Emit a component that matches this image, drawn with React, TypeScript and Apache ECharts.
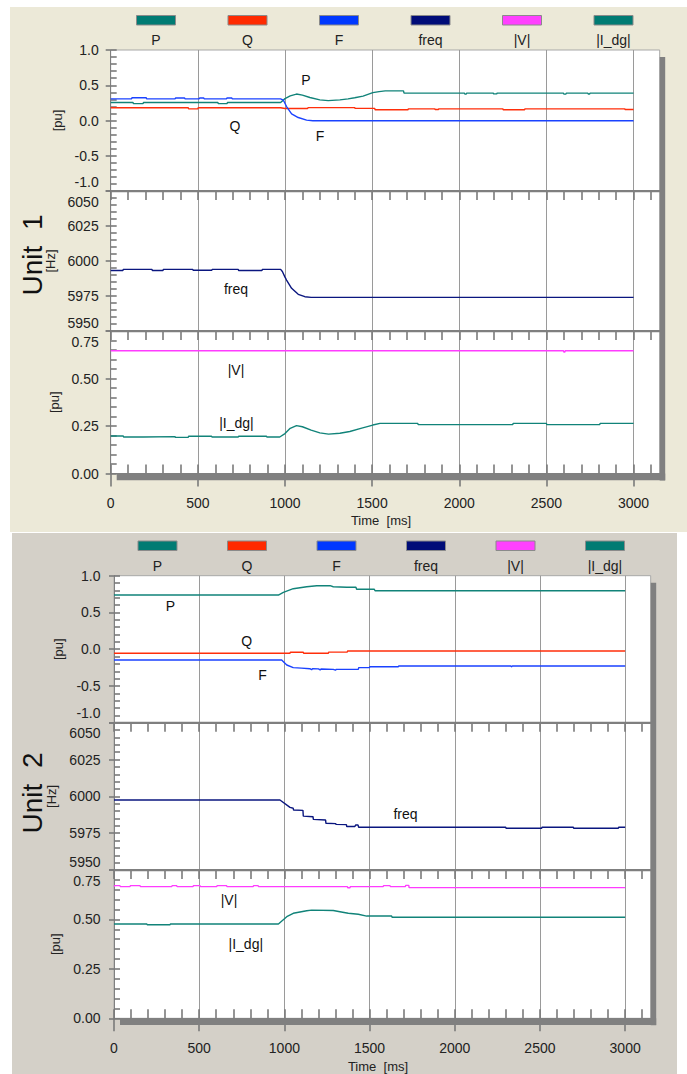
import React, { useEffect, useRef } from "react";
import * as echarts from "echarts";

const FONT = "'Liberation Sans', Arial, sans-serif";

// ---------- tick values ----------
const timeMajorTicks = [0, 500, 1000, 1500, 2000, 2500, 3000];
const timeMinorTicks = [
  0, 100, 200, 300, 400, 500, 600, 700, 800, 900, 1000, 1100, 1200, 1300, 1400, 1500,
  1600, 1700, 1800, 1900, 2000, 2100, 2200, 2300, 2400, 2500, 2600, 2700, 2800, 2900, 3000, 3100,
];
const timeMax = 3150;
const pqRange = [-1, 1, 0.5, 0.1];
const freqRange = [5950, 6050, 25, 5];
const viRange = [0, 0.75, 0.25, 0.05];

// ---------- legend ----------
const legendNames = ["P", "Q", "F", "freq", "|V|", "|I_dg|"];
const legendFills = ["#007b73", "#ff2a00", "#0038ff", "#000c78", "#ff40ff", "#007b73"];
const lineColors = ["#118379", "#ff2e0a", "#1a42ff", "#0a167f", "#ff3cff", "#118379"];

// ---------- Unit 1 data [time ms, value] ----------
const u1P: [number, number][] = [
  [0, 0.255], [128, 0.255], [130, 0.24], [186, 0.24], [188, 0.255],
  [615, 0.255], [617, 0.24], [668, 0.24], [670, 0.255],
  [975, 0.255], [1000, 0.31], [1030, 0.35], [1066, 0.375], [1100, 0.36],
  [1143, 0.326], [1200, 0.293], [1248, 0.282], [1315, 0.293], [1362, 0.307],
  [1400, 0.322], [1448, 0.345], [1504, 0.396], [1540, 0.41], [1575, 0.42],
  [1680, 0.42], [1683, 0.388], [2030, 0.388], [2032, 0.374], [2040, 0.374], [2042, 0.388],
  [2195, 0.388], [2197, 0.378], [2215, 0.378], [2217, 0.388],
  [2598, 0.388], [2600, 0.374], [2612, 0.374], [2614, 0.388],
  [2738, 0.388], [2740, 0.376], [2748, 0.376], [2750, 0.388], [3000, 0.388],
];
const u1Q: [number, number][] = [
  [0, 0.18], [445, 0.18], [447, 0.165], [500, 0.165], [502, 0.18], [975, 0.18],
  [1000, 0.17], [1130, 0.17], [1132, 0.182], [1400, 0.182], [1402, 0.172],
  [1515, 0.172], [1517, 0.152], [1706, 0.152], [1708, 0.165], [1860, 0.165],
  [1862, 0.155], [1880, 0.155], [1882, 0.165], [2250, 0.165], [2252, 0.152],
  [2375, 0.152], [2377, 0.165], [2950, 0.165], [2952, 0.155], [3000, 0.155],
];
const u1F: [number, number][] = [
  [0, 0.307], [120, 0.307], [122, 0.322], [204, 0.322], [206, 0.307],
  [370, 0.307], [372, 0.32], [424, 0.32], [426, 0.307], [508, 0.307], [510, 0.32],
  [534, 0.32], [536, 0.307], [665, 0.307], [667, 0.32], [695, 0.32], [697, 0.307],
  [975, 0.307], [990, 0.29], [1009, 0.198], [1038, 0.095], [1076, 0.042],
  [1124, 0.005], [1160, -0.003], [3000, -0.003],
];
const u1Freq: [number, number][] = [
  [0, 5993.2], [70, 5993.2], [72, 5994], [237, 5994], [239, 5993.2], [300, 5993.2],
  [302, 5994], [471, 5994], [473, 5993.4], [580, 5993.4], [582, 5994], [732, 5994],
  [734, 5993.2], [868, 5993.2], [870, 5994], [975, 5994], [985, 5992.5], [1000, 5988.5],
  [1009, 5986.4], [1038, 5980.5], [1076, 5976.2], [1114, 5974.5], [1150, 5974], [3000, 5974],
];
const u1V: [number, number][] = [
  [0, 0.646], [2598, 0.646], [2600, 0.639], [2606, 0.639], [2608, 0.646], [3000, 0.646],
];
const u1I: [number, number][] = [
  [0, 0.197], [72, 0.197], [74, 0.192], [187, 0.192], [189, 0.194], [369, 0.194],
  [371, 0.19], [445, 0.19], [447, 0.196], [579, 0.196], [581, 0.192], [732, 0.192],
  [734, 0.196], [894, 0.196], [896, 0.192], [970, 0.192], [1000, 0.21], [1030, 0.238],
  [1066, 0.252], [1100, 0.246], [1150, 0.228], [1200, 0.214], [1250, 0.207],
  [1315, 0.212], [1372, 0.221], [1430, 0.236], [1504, 0.255], [1545, 0.264],
  [1762, 0.264], [1764, 0.257], [2307, 0.257], [2309, 0.264], [2500, 0.264],
  [2502, 0.257], [2806, 0.257], [2808, 0.264], [3000, 0.264],
];

// ---------- Unit 2 data [time ms, value] ----------
const u2P: [number, number][] = [
  [0, 0.737], [965, 0.737], [994, 0.774], [1052, 0.823], [1131, 0.85], [1190, 0.864],
  [1268, 0.864], [1287, 0.85], [1366, 0.842], [1420, 0.842], [1424, 0.815],
  [1528, 0.815], [1532, 0.796], [3000, 0.796],
];
const u2Q: [number, number][] = [
  [0, -0.056], [1033, -0.056], [1035, -0.042], [1111, -0.042], [1113, -0.056],
  [1258, -0.056], [1260, -0.04], [1369, -0.04], [1371, -0.024], [3000, -0.024],
];
const u2F: [number, number][] = [
  [0, -0.147], [984, -0.147], [1014, -0.215], [1052, -0.251], [1100, -0.258],
  [1150, -0.265], [1160, -0.28], [1165, -0.265], [1200, -0.268], [1210, -0.282],
  [1215, -0.27], [1287, -0.274], [1300, -0.285], [1305, -0.274], [1434, -0.274],
  [1436, -0.251], [1499, -0.251], [1501, -0.238], [1669, -0.238], [1671, -0.229],
  [2330, -0.229], [2332, -0.24], [2338, -0.229], [3000, -0.229],
];
const u2Freq: [number, number][] = [
  [0, 5997.5], [974, 5997.5], [1033, 5992.5], [1052, 5991.9], [1054, 5990.7],
  [1109, 5990.5], [1111, 5986.6], [1168, 5986.2], [1170, 5984.4], [1242, 5983.9],
  [1244, 5981.7], [1301, 5981.5], [1303, 5981], [1364, 5980.8], [1366, 5979.5],
  [1414, 5979.5], [1418, 5980.6], [1432, 5980.6], [1436, 5979], [2299, 5979],
  [2301, 5978.3], [2510, 5978.3], [2512, 5979], [2696, 5979], [2698, 5978.3],
  [2960, 5978.3], [2962, 5979], [3000, 5979],
];
const u2V: [number, number][] = [
  [0, 0.666], [6, 0.671], [35, 0.671], [37, 0.666], [94, 0.666], [96, 0.671],
  [153, 0.671], [155, 0.666], [339, 0.666], [341, 0.671], [368, 0.671], [370, 0.666],
  [464, 0.666], [466, 0.671], [505, 0.671], [507, 0.666], [603, 0.666], [605, 0.671],
  [661, 0.671], [663, 0.666], [817, 0.666], [819, 0.671], [846, 0.671], [848, 0.666],
  [1370, 0.666], [1372, 0.66], [1385, 0.66], [1387, 0.666], [1580, 0.666],
  [1582, 0.671], [1620, 0.671], [1622, 0.666], [1710, 0.666], [1712, 0.672],
  [1730, 0.672], [1732, 0.661], [3000, 0.661],
];
const u2I: [number, number][] = [
  [0, 0.477], [193, 0.477], [195, 0.473], [329, 0.473], [331, 0.477], [965, 0.477],
  [1014, 0.514], [1052, 0.531], [1131, 0.544], [1160, 0.547], [1287, 0.545],
  [1326, 0.539], [1375, 0.531], [1434, 0.526], [1483, 0.517], [1630, 0.517],
  [1632, 0.511], [3000, 0.511],
];

const unitData = [
  [[u1P, u1Q, u1F], [u1Freq], [u1V, u1I]],
  [[u2P, u2Q, u2F], [u2Freq], [u2V, u2I]],
];
const unitSeriesIdx = [[0, 1, 2], [3], [4, 5]];
const unitTitles = ["Unit  1", "Unit  2"];
const axisNames = ["[pu]", "[Hz]", "[pu]"];

// ---------- layout (pixels) ----------
const layouts = [
  {
    left: 110.7, width: 549, tops: [50, 191, 331], bottom: 473.5,
    labelMargin: 12, nameGap: 47, xLabelMargin: 22,
    legendXs: [156, 247.5, 339, 430.5, 522, 613.5], legendRectY: 15.5, legendTextY: 40,
    unitY: 255, timeX: 381, timeY: 520.7,
    bg: { x: 10, y: 7, w: 677, h: 525, fill: "#ece9d8" },
    annot: [[306, 80], [235, 125.5], [320, 136], [236, 288.5], [236, 369.5], [236.5, 422.5]],
  },
  {
    left: 114, width: 536.7, tops: [575.7, 722.7, 870], bottom: 1018.3,
    labelMargin: 13.5, nameGap: 48, xLabelMargin: 23,
    legendXs: [157.5, 247, 336.5, 426, 515.5, 605], legendRectY: 541, legendTextY: 565.7,
    unitY: 793, timeX: 378, timeY: 1066,
    bg: { x: 12, y: 533, w: 665, h: 541, fill: "#d4d0c8" },
    annot: [[170.5, 606], [246.7, 641], [262.5, 674.5], [405.5, 814], [229, 900], [245.8, 943.5]],
  },
];

const TICK = "#7a7a7a";
const TICK_W = 1.6;

function tickAxisX(g: number, position: string, values: number[], inside: boolean, length: number) {
  return {
    type: "value", gridIndex: g, min: 0, max: timeMax, position,
    axisLine: { show: false, onZero: false },
    axisTick: { show: true, inside, length, customValues: values, lineStyle: { color: TICK, width: TICK_W } },
    axisLabel: { show: false }, splitLine: { show: false },
  };
}

function buildOption() {
  const grids: any[] = [];
  const xAxes: any[] = [];
  const yAxes: any[] = [];
  const series: any[] = [];
  const graphics: any[] = [];
  const ranges = [pqRange, freqRange, viRange];
  const fmts = [
    (v: number) => v.toFixed(1),
    (v: number) => String(Math.round(v)),
    (v: number) => v.toFixed(2),
  ];
  const labelStyle = { fontSize: 14, color: "#222", fontFamily: FONT };

  layouts.forEach((L, u) => {
    graphics.push({
      type: "rect", z: -10, silent: true,
      shape: { x: L.bg.x, y: L.bg.y, width: L.bg.w, height: L.bg.h },
      style: { fill: L.bg.fill },
    });
    for (let k = 0; k < 3; k++) {
      const g = grids.length;
      const top = L.tops[k];
      const bottom = k < 2 ? L.tops[k + 1] : L.bottom;
      grids.push({
        left: L.left, top, width: L.width, height: bottom - top,
        show: true, backgroundColor: "#ffffff", borderColor: "#a8a8a8", borderWidth: 1,
      });
      const [mn, mx, major, minor] = ranges[k];
      const mainX = xAxes.length;
      xAxes.push({
        type: "value", gridIndex: g, min: 0, max: timeMax, interval: 500, position: "bottom",
        axisLine: { show: k === 2, onZero: false, lineStyle: { color: "#808080" } },
        axisTick: { show: false, customValues: timeMajorTicks },
        axisLabel: {
          show: k === 2, customValues: timeMajorTicks, margin: L.xLabelMargin, ...labelStyle,
          formatter: (v: number) => String(v),
        },
        splitLine: { show: true, lineStyle: { color: "#9a9a9a", width: 1 } },
      });
      if (k > 0) xAxes.push(tickAxisX(g, "top", timeMinorTicks, true, 9));
      if (k === 2) {
        xAxes.push(tickAxisX(g, "bottom", timeMinorTicks, true, 9));
        xAxes.push(tickAxisX(g, "bottom", timeMajorTicks, false, 13));
      }
      const mainY = yAxes.length;
      yAxes.push({
        type: "value", gridIndex: g, min: mn, max: mx, interval: major, position: "left",
        axisLine: { show: true, onZero: false, lineStyle: { color: "#808080" } },
        axisTick: { show: false },
        axisLabel: {
          margin: L.labelMargin, ...labelStyle, formatter: fmts[k],
          showMinLabel: k === 2, showMaxLabel: k === 0,
        },
        splitLine: { show: false },
        name: axisNames[k], nameLocation: "middle", nameGap: L.nameGap,
        nameTextStyle: { fontSize: 13, color: "#222", fontFamily: FONT },
      });
      yAxes.push({
        type: "value", gridIndex: g, min: mn, max: mx, interval: minor, position: "left",
        axisLine: { show: false, onZero: false },
        axisTick: { show: true, inside: true, length: 6, lineStyle: { color: TICK, width: TICK_W } },
        axisLabel: { show: false }, splitLine: { show: false },
      });
      yAxes.push({
        type: "value", gridIndex: g, min: mn, max: mx, interval: major, position: "left",
        axisLine: { show: false, onZero: false },
        axisTick: { show: true, inside: false, length: 5, lineStyle: { color: TICK, width: TICK_W } },
        axisLabel: { show: false }, splitLine: { show: false },
      });
      unitData[u][k].forEach((data, j) => {
        const si = unitSeriesIdx[k][j];
        series.push({
          type: "line", name: legendNames[si], xAxisIndex: mainX, yAxisIndex: mainY,
          data, symbol: "none", showSymbol: false, silent: true, animation: false,
          lineStyle: { color: lineColors[si], width: 1.4 }, itemStyle: { color: lineColors[si] },
          z: 3,
        });
      });
    }
    const xr = L.left - L.labelMargin;
    const shifted: [string, number][] = [
      [fmts[0](pqRange[0]), L.tops[1] - 9.5],
      [fmts[1](freqRange[1]), L.tops[1] + 10.5],
      [fmts[1](freqRange[0]), L.tops[2] - 8],
      [fmts[2](viRange[1]), L.tops[2] + 11],
    ];
    shifted.forEach(([t, y]) => {
      graphics.push({
        type: "text", x: xr, y, silent: true, z: 5,
        style: { text: t, fill: "#222", font: `14px ${FONT}`, align: "right", verticalAlign: "middle" },
      });
    });
    [L.tops[1], L.tops[2]].forEach((y) => {
      graphics.push({
        type: "rect", silent: true, z: 6,
        shape: { x: L.left, y: y - 1, width: L.width + 1, height: 2.2 },
        style: { fill: "#7f7f7f" },
      });
    });
    const right = L.left + L.width;
    graphics.push({
      type: "rect", silent: true, z: 6,
      shape: { x: right, y: L.tops[0] + 7, width: 5.5, height: L.bottom - L.tops[0] },
      style: { fill: "#808080" },
    });
    graphics.push({
      type: "rect", silent: true, z: 6,
      shape: { x: L.left + 6, y: L.bottom, width: L.width - 0.5, height: 6.7 },
      style: { fill: "#808080" },
    });
    legendNames.forEach((n, i) => {
      graphics.push({
        type: "rect", silent: true, z: 5,
        shape: { x: L.legendXs[i] - 19.5, y: L.legendRectY, width: 39, height: 9.5 },
        style: { fill: legendFills[i], stroke: "#8a8a8a", lineWidth: 1 },
      });
      graphics.push({
        type: "text", x: L.legendXs[i], y: L.legendTextY, silent: true, z: 5,
        style: { text: n, fill: "#222", font: `14px ${FONT}`, align: "center", verticalAlign: "middle" },
      });
      graphics.push({
        type: "text", x: L.annot[i][0], y: L.annot[i][1], silent: true, z: 5,
        style: { text: n, fill: "#111", font: `14px ${FONT}`, align: "center", verticalAlign: "middle" },
      });
    });
    graphics.push({
      type: "text", x: 32, y: L.unitY, rotation: Math.PI / 2, silent: true, z: 5,
      style: { text: unitTitles[u], fill: "#111", font: `28px ${FONT}`, align: "center", verticalAlign: "middle" },
    });
    graphics.push({
      type: "text", x: L.timeX, y: L.timeY, silent: true, z: 5,
      style: { text: "Time  [ms]", fill: "#222", font: `13px ${FONT}`, align: "center", verticalAlign: "middle" },
    });
  });

  return {
    animation: false,
    backgroundColor: "#ffffff",
    grid: grids,
    xAxis: xAxes,
    yAxis: yAxes,
    series,
    graphic: { elements: graphics },
  };
}

export default function App() {
  const ref = useRef<HTMLDivElement>(null);
  useEffect(() => {
    if (!ref.current) return;
    const chart = echarts.init(ref.current, undefined, { renderer: "svg" });
    chart.setOption(buildOption() as any);
    return () => chart.dispose();
  }, []);
  return (
    <div
      ref={ref}
      style={{ position: "absolute", left: 0, top: 0, width: 687, height: 1074 }}
    />
  );
}
